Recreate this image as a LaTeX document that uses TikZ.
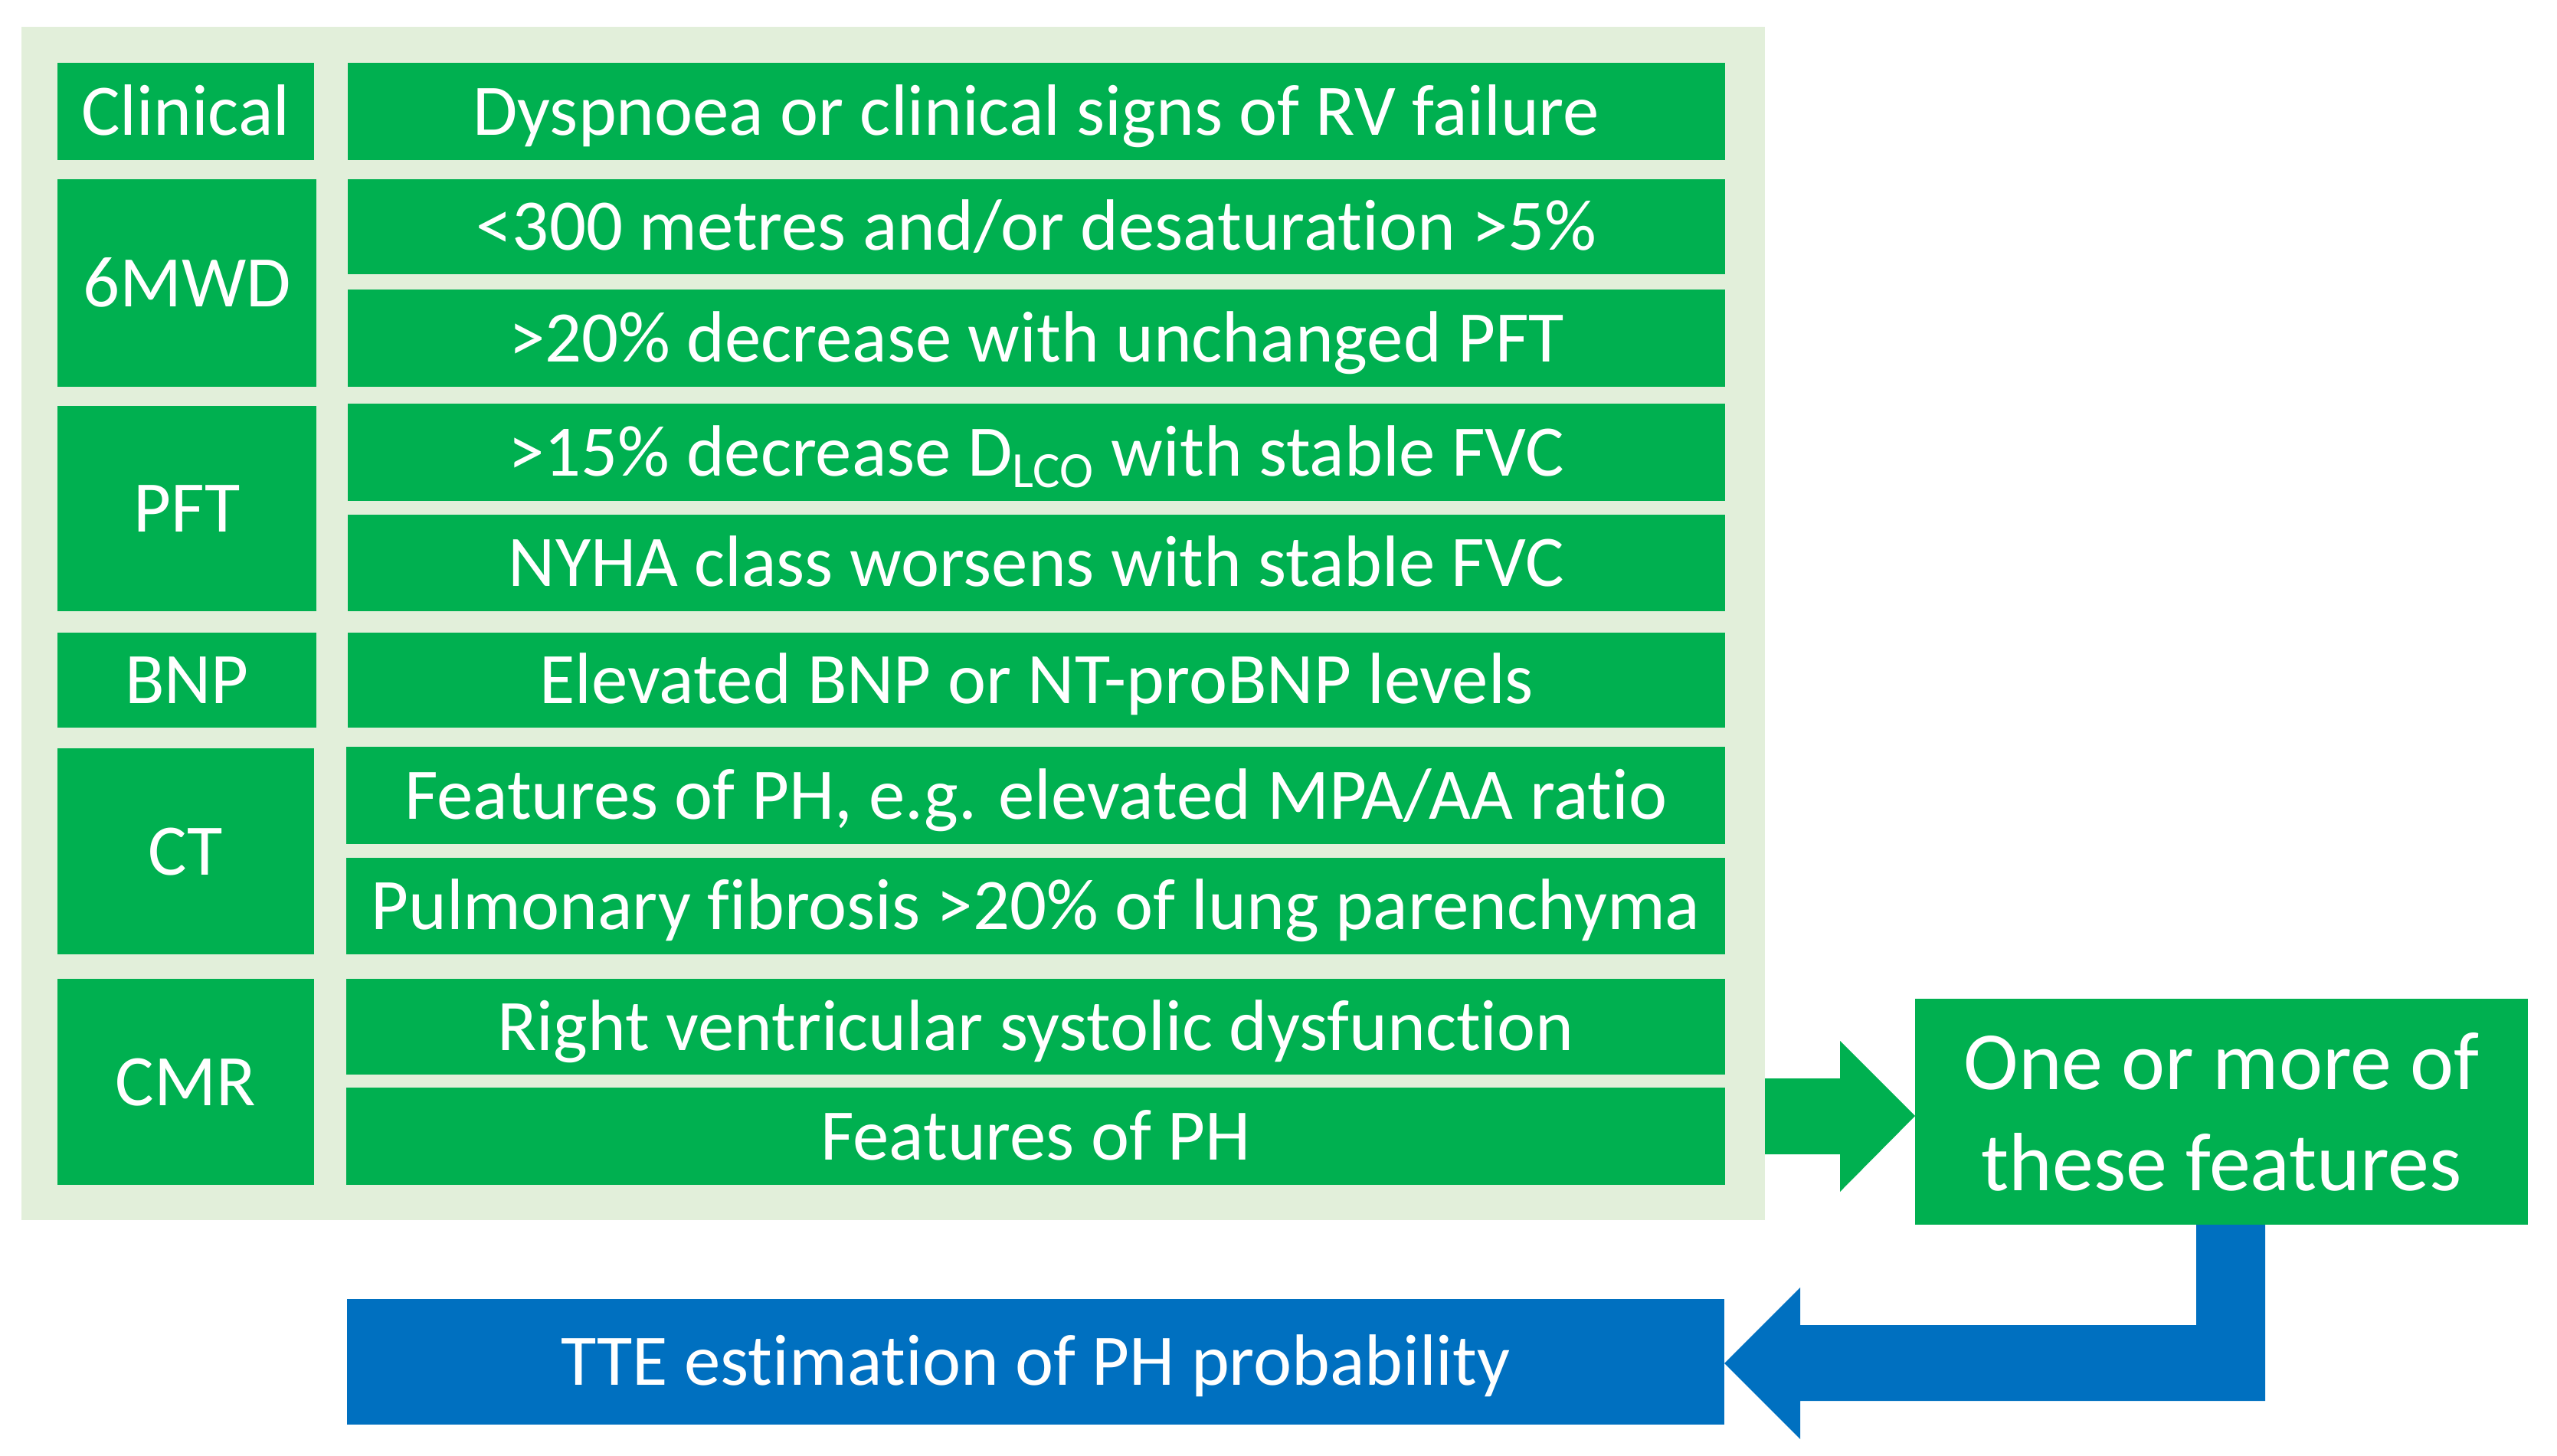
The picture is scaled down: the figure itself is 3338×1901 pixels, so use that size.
\documentclass[tikz,border=0pt]{standalone}
\usepackage{fontspec}
\setmainfont{Carlito}[Ligatures=NoCommon]
\definecolor{pgreen}{RGB}{0,176,80}
\definecolor{plight}{RGB}{226,239,218}
\definecolor{pblue}{RGB}{0,112,192}
\tikzset{
  gbox/.style={fill=pgreen, draw=none, inner sep=0pt, outer sep=0pt, text=white,
    font=\fontsize{23.7pt}{29pt}\selectfont, text height=15.3pt, text depth=0pt, align=center},
  bbox/.style={gbox, fill=pblue},
  panelbox/.style={fill=plight, draw=none, inner sep=0pt, outer sep=0pt},
  blockarrow/.style={draw=none}
}
\newcommand\mybox[7]{%
  \node[#1, minimum width={(#5-#3)*0.25pt}, minimum height={(#6-#4)*0.25pt}]
    (#2) at ({(#3+#5)/2},{(#4+#6)/2}) {#7};}
\begin{document}
\begin{tikzpicture}[x=0.25pt,y=-0.25pt]
\useasboundingbox (0,0) rectangle (3338,1901);
% panel
\mybox{panelbox}{panel}{28}{35}{2304}{1593}{}
% left column
\mybox{gbox}{clin}{75}{82}{410}{209}{Clinical}
\mybox{gbox}{mwd}{75}{234}{413}{505}{6MWD}
\mybox{gbox}{pft}{75}{530}{413}{798}{PFT}
\mybox{gbox}{bnp}{75}{826}{413}{950}{BNP}
\mybox{gbox}{ct}{75}{977}{410}{1246}{CT}
\mybox{gbox}{cmr}{75}{1278}{410}{1547}{CMR}
% right column
\mybox{gbox}{r1}{454}{82}{2252}{209}{Dyspnoea or clinical signs of RV failure}
\mybox{gbox}{r2}{454}{234}{2252}{358}{<300 metres and/or desaturation >5\%}
\mybox{gbox}{r3}{454}{378}{2252}{505}{>20\% decrease with unchanged PFT}
\mybox{gbox}{r4}{454}{527}{2252}{654}{>15\% decrease D\textsubscript{LCO} with stable FVC}
\mybox{gbox}{r5}{454}{672}{2252}{798}{NYHA class worsens with stable FVC}
\mybox{gbox}{r6}{454}{826}{2252}{950}{Elevated BNP or NT-proBNP levels}
\mybox{gbox}{r7}{452}{975}{2252}{1102}{Features of PH, e.g. elevated MPA/AA ratio}
\mybox{gbox}{r8}{452}{1120}{2252}{1246}{Pulmonary fibrosis >20\% of lung parenchyma}
\mybox{gbox}{r9}{452}{1278}{2252}{1403}{Right ventricular systolic dysfunction}
\mybox{gbox}{r10}{452}{1420}{2252}{1547}{Features of PH}
% result box (background, then text)
\mybox{gbox}{one}{2500}{1304}{3300}{1599}{}
\node[text=white, inner sep=0pt, align=center, font=\fontsize{27pt}{33pt}\selectfont,
  text height=50.4pt, text depth=0pt] (onetext) at (2900,1454) {One or more of\\these features};
% TTE box
\mybox{bbox}{tte}{453}{1696}{2251}{1860}{TTE estimation of PH probability}
% green block arrow
\fill[pgreen, blockarrow] (panel.east |- 0,1408) -- (2402,1408) -- (2402,1359) -- (one.west |- 0,1457)
  -- (2402,1556) -- (2402,1507) -- (panel.east |- 0,1507) -- cycle;
% blue block arrow
\fill[pblue, blockarrow] (2867,1599) -- (2957,1599) -- (2957,1829) -- (2350,1829) -- (2350,1879)
  -- (tte.east |- 0,1780) -- (2350,1681) -- (2350,1730) -- (2867,1730) -- cycle;
\end{tikzpicture}
\end{document}
